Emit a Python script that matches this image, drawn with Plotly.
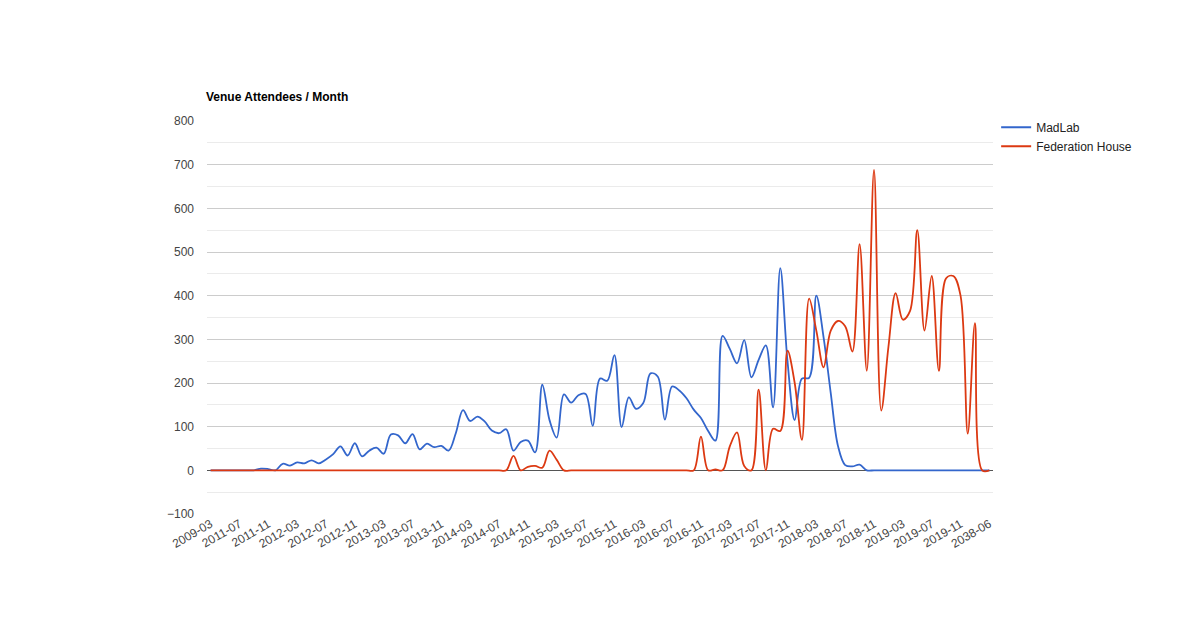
import plotly.graph_objects as go

# ---- data ----
months = ["2009-03"]
y, m = 2011, 4
while (y, m) <= (2020, 2):
    months.append(f"{y}-{m:02d}")
    m += 1
    if m > 12:
        m = 1
        y += 1
months.append("2038-06")

madlab = [0, 0, 0, 0, 0, 0, 0, 4, 3, 0,
          15, 11, 18, 16, 23, 16, 25, 37, 55, 34,
          62, 32, 45, 52, 38, 82, 80, 62, 83, 48,
          61, 53, 56, 45, 85, 138, 113, 123, 112, 91,
          85, 94, 45, 65, 68, 41, 196, 115, 75, 174,
          155, 172, 175, 102, 210, 205, 264, 99, 167, 141,
          154, 222, 215, 116, 192, 183, 165, 139, 120, 90,
          68, 308, 278, 245, 298, 213, 253, 286, 144, 463,
          250, 115, 210, 212, 400, 305, 177, 56, 12, 9,
          13, 0, 0, 0, 0, 0, 0, 0, 0, 0,
          0, 0, 0, 0, 0, 0, 0, 0, 0]

federation = [0] * 42 + [33, 0, 8, 10, 6, 45, 24] + [0] * 19 + \
    [77, 0, 2, 0, 55, 87, 10, 0, 185, 0,
     95, 90, 274, 200, 70, 393, 320, 236, 320, 342,
     330, 272, 518, 228, 688, 137, 283, 406, 345, 365,
     550, 320, 445, 228, 440, 445, 400, 84, 337, 0, 0]

tick_labels = months[::4]

FONT = "Arial, 'Liberation Sans', sans-serif"

fig = go.Figure()
fig.add_trace(go.Scatter(x=months, y=madlab, name="MadLab", mode="lines",
                         line=dict(color="#3366CC", width=1.8, shape="spline", smoothing=1)))
fig.add_trace(go.Scatter(x=months, y=federation, name="Federation House", mode="lines",
                         line=dict(color="#DC3912", width=1.8, shape="spline", smoothing=1)))

fig.update_layout(
    width=1200, height=634,
    margin=dict(l=207, r=207, t=121, b=120),
    paper_bgcolor="white", plot_bgcolor="white",
    font=dict(family=FONT, size=12, color="#444"),
    title=dict(text="<b>Venue Attendees / Month</b>", x=206 / 1200, xanchor="left",
               xref="container", y=1 - 97 / 634, yanchor="middle", yref="container",
               font=dict(family=FONT, size=12, color="#000")),
    legend=dict(x=1.004, xanchor="left", y=1.021, yanchor="top",
                font=dict(family=FONT, size=12, color="#222"),
                itemwidth=30, tracegroupgap=0, bgcolor="rgba(0,0,0,0)"),
    showlegend=True,
)
fig.update_xaxes(type="category", range=[-0.5, len(months) - 0.5],
                 tickmode="array", tickvals=tick_labels, ticktext=tick_labels,
                 tickangle=-30, showgrid=False, showline=False, ticks="",
                 tickfont=dict(family=FONT, size=12, color="#444"), zeroline=False)
fig.update_yaxes(range=[-100, 800], dtick=100, tick0=0, showgrid=True, gridcolor="#cccccc",
                 gridwidth=1, zeroline=True, zerolinecolor="#555555", zerolinewidth=1,
                 showline=False, ticks="", ticklabelstandoff=12,
                 tickfont=dict(family=FONT, size=12, color="#444"),
                 minor=dict(dtick=50, tick0=0, showgrid=True, gridcolor="#ebebeb", gridwidth=1))

fig.write_html("out.html")
